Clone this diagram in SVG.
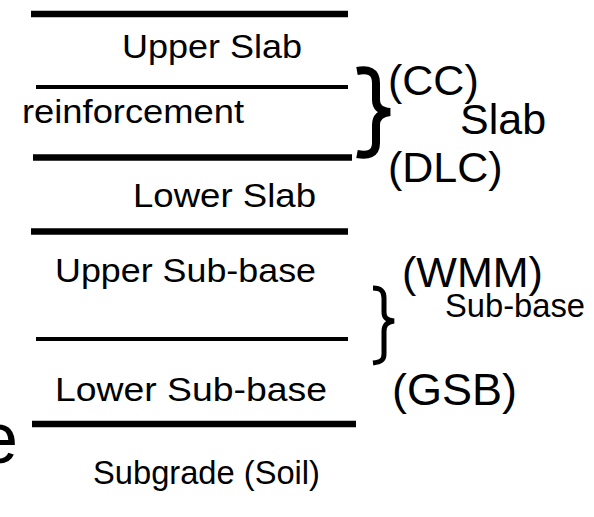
<svg xmlns="http://www.w3.org/2000/svg" width="594" height="517" viewBox="0 0 594 517">
  <style>
    .layer { font-family: "Liberation Sans", Arial, sans-serif; font-size: 34px; fill: #000; }
    .tag { font-family: "Liberation Sans", Arial, sans-serif; font-size: 43px; fill: #000; }
    .thick { stroke: #000; stroke-width: 6.5; }
    .thin { stroke: #000; stroke-width: 4; }
    .brace { fill: none; stroke: #000; stroke-linecap: butt; stroke-linejoin: miter; }
  </style>
  <rect width="594" height="517" fill="#fff"/>

  <!-- layer boundaries -->
  <g id="boundaries">
    <line class="thick" x1="31" y1="14" x2="348" y2="14"/>
    <line class="thin" x1="36" y1="87" x2="348" y2="87"/>
    <line class="thick" x1="33" y1="157.5" x2="352" y2="157.5"/>
    <line class="thick" x1="31" y1="231.5" x2="348" y2="231.5"/>
    <line class="thin" x1="36" y1="339" x2="348" y2="339"/>
    <line class="thick" x1="32" y1="424" x2="356" y2="424"/>
  </g>

  <!-- layer names -->
  <g id="upper-slab"><text class="layer" x="122" y="58" textLength="180" lengthAdjust="spacingAndGlyphs">Upper Slab</text></g>
  <g id="reinforcement"><text class="layer" x="22" y="123" textLength="222" lengthAdjust="spacingAndGlyphs">reinforcement</text></g>
  <g id="lower-slab"><text class="layer" x="133" y="207" textLength="183" lengthAdjust="spacingAndGlyphs">Lower Slab</text></g>
  <g id="upper-sub-base"><text class="layer" x="55" y="282" textLength="261" lengthAdjust="spacingAndGlyphs">Upper Sub-base</text></g>
  <g id="lower-sub-base"><text class="layer" x="55" y="401" textLength="272" lengthAdjust="spacingAndGlyphs">Lower Sub-base</text></g>
  <g id="subgrade"><text class="layer" x="93" y="484" textLength="227" lengthAdjust="spacingAndGlyphs">Subgrade (Soil)</text></g>

  <!-- partial letter at the left edge -->
  <g id="edge-letter"><text class="tag" x="-22" y="463" style="font-size:72px">e</text></g>

  <!-- group braces -->
  <g id="braces">
    <path class="brace" stroke-width="8" d="M357 71 C368 69 376 71 376 83 L376 100 C376 108 381 111 390 112 C381 113 376 117 376 125 L376 143 C376 154 368 156 357 154"/>
    <path class="brace" stroke-width="5" d="M373 288 C381 288 384 291 384 298 L384 312 C384 318 387 320 394 321 C387 322 384 325 384 331 L384 354 C384 360 381 362 373 363"/>
  </g>

  <!-- slab group labels -->
  <g id="slab-group">
    <text class="tag" x="388" y="95">(CC)</text>
    <text class="tag" x="460" y="134">Slab</text>
    <text class="tag" x="388" y="182">(DLC)</text>
  </g>

  <!-- sub-base group labels -->
  <g id="sub-base-group">
    <text class="tag" x="402" y="287">(WMM)</text>
    <text class="layer" x="445" y="317" textLength="140" lengthAdjust="spacingAndGlyphs">Sub-base</text>
    <text class="tag" x="392" y="405" style="font-size:45px">(GSB)</text>
  </g>
</svg>
